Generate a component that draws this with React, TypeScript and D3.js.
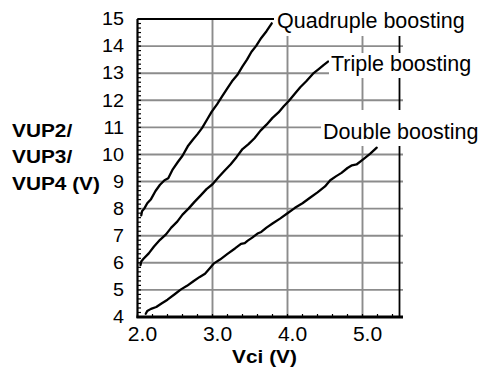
import React from "react";
import * as d3 from "d3";

const X_TICKS = [2.0, 3.0, 4.0, 5.0];
const X_TICK_LABELS = ["2.0", "3.0", "4.0", "5.0"];
const Y_TICKS = [4, 5, 6, 7, 8, 9, 10, 11, 12, 13, 14, 15];

const doubleVci = [2.11, 2.13, 2.18, 2.25, 2.32, 2.4, 2.5, 2.58, 2.66, 2.75, 2.83, 2.9, 2.97, 3.02, 3.1, 3.2, 3.3, 3.38, 3.43, 3.47, 3.53, 3.6, 3.65, 3.72, 3.8, 3.9, 4.0, 4.1, 4.2, 4.3, 4.4, 4.5, 4.57, 4.65, 4.72, 4.8, 4.86, 4.92, 5.0, 5.1, 5.19];
const doubleV = [4.12, 4.22, 4.3, 4.37, 4.5, 4.64, 4.85, 5.02, 5.15, 5.33, 5.48, 5.6, 5.82, 5.98, 6.12, 6.33, 6.53, 6.7, 6.73, 6.82, 6.93, 7.08, 7.14, 7.3, 7.45, 7.63, 7.83, 8.03, 8.2, 8.4, 8.6, 8.82, 9.05, 9.2, 9.32, 9.5, 9.6, 9.63, 9.8, 10.02, 10.25];

const tripleVci = [2.04, 2.05, 2.08, 2.15, 2.22, 2.3, 2.38, 2.45, 2.53, 2.6, 2.68, 2.76, 2.84, 2.92, 3.0, 3.08, 3.16, 3.24, 3.32, 3.4, 3.48, 3.56, 3.64, 3.72, 3.8, 3.88, 3.95, 4.02, 4.1, 4.17, 4.25, 4.34, 4.42, 4.48, 4.54];
const tripleV = [5.92, 6.05, 6.15, 6.35, 6.6, 6.85, 7.05, 7.3, 7.52, 7.78, 8.0, 8.25, 8.48, 8.72, 8.9, 9.16, 9.4, 9.63, 9.9, 10.2, 10.38, 10.6, 10.88, 11.1, 11.35, 11.55, 11.78, 11.98, 12.25, 12.48, 12.7, 12.98, 13.16, 13.3, 13.43];

const quadVci = [2.05, 2.06, 2.09, 2.13, 2.18, 2.24, 2.3, 2.36, 2.41, 2.47, 2.54, 2.6, 2.67, 2.74, 2.8, 2.86, 2.93, 2.99, 3.06, 3.13, 3.2, 3.26, 3.33, 3.4, 3.46, 3.52, 3.58, 3.65, 3.72, 3.79];
const quadV = [7.75, 7.9, 8.0, 8.2, 8.35, 8.65, 8.88, 9.05, 9.12, 9.45, 9.73, 9.95, 10.3, 10.55, 10.75, 10.97, 11.3, 11.58, 11.85, 12.15, 12.45, 12.7, 12.93, 13.25, 13.5, 13.79, 14.0, 14.3, 14.55, 14.84];

const SERIES = [
  { name: "Double boosting", xs: doubleVci, ys: doubleV },
  { name: "Triple boosting", xs: tripleVci, ys: tripleV },
  { name: "Quadruple boosting", xs: quadVci, ys: quadV },
];

const FONT = "'Liberation Sans', Arial, Helvetica, sans-serif";

export default function App() {
  const W = 482;
  const H = 367;
  const x = d3.scaleLinear().domain([2, 5.5]).range([137.5, 400]);
  const y = d3.scaleLinear().domain([4, 15]).range([317, 19]);
  const line = d3
    .line<[number, number]>()
    .x((d) => x(d[0]))
    .y((d) => y(d[1]));

  const yMinor = d3.range(4, 15.001, 1 / 6);
  const xMinor = d3.range(2, 5.5, 0.2);

  return (
    <div style={{ position: "absolute", left: 0, top: 0 }}>
      <svg width={W} height={H} style={{ display: "block", background: "#fff" }}>
        {/* horizontal gridlines */}
        {Y_TICKS.map((t) => (
          <line key={"hy" + t} x1={x(2)} x2={x(5.5) + 3} y1={y(t)} y2={y(t)} stroke="#8c8c8c" strokeWidth={1.9} />
        ))}
        {/* vertical gridlines */}
        {X_TICKS.slice(1).map((t) => (
          <line key={"vx" + t} x1={x(t)} x2={x(t)} y1={y(15)} y2={y(4)} stroke="#8c8c8c" strokeWidth={1.9} />
        ))}
        {/* top & right borders */}
        <line x1={x(2)} x2={x(5.5)} y1={y(15)} y2={y(15)} stroke="#000" strokeWidth={1.8} />
        <line x1={x(5.5) - 0.5} x2={x(5.5) - 0.5} y1={y(15)} y2={y(4)} stroke="#000" strokeWidth={1.8} />
        {/* left axis */}
        <line x1={x(2)} x2={x(2)} y1={y(15)} y2={y(4) + 1} stroke="#000" strokeWidth={2.2} />
        {yMinor.map((t, i) => (
          <line key={"ym" + i} x1={x(2)} x2={x(2) + 3.5} y1={y(t)} y2={y(t)} stroke="#000" strokeWidth={1.2} />
        ))}
        {/* bottom axis */}
        <line x1={x(2) - 1} x2={x(5.5) + 3} y1={y(4)} y2={y(4)} stroke="#000" strokeWidth={3} />
        {xMinor.map((t, i) => (
          <line key={"xm" + i} x1={x(t)} x2={x(t)} y1={y(4)} y2={y(4) - 3} stroke="#000" strokeWidth={1.2} />
        ))}
        {/* curves */}
        {SERIES.map((s) => (
          <path
            key={s.name}
            d={line(s.xs.map((v, i) => [v, s.ys[i]] as [number, number])) || ""}
            fill="none"
            stroke="#000"
            strokeWidth={2.3}
            strokeLinejoin="round"
            strokeLinecap="round"
          />
        ))}
        {/* curve labels with white boxes */}
        <rect x={274} y={4} width={205} height={32} fill="#fff" />
        <text x={277} y={28} fontFamily={FONT} fontSize={21.5} fill="#000">Quadruple boosting</text>
        <rect x={329} y={53} width={150} height={25} fill="#fff" />
        <text x={331} y={71} fontFamily={FONT} fontSize={21.5} fill="#000">Triple boosting</text>
        <rect x={321} y={110} width={158} height={36} fill="#fff" />
        <text x={323} y={139} fontFamily={FONT} fontSize={21.5} fill="#000">Double boosting</text>

        {/* y tick labels */}
        {Y_TICKS.map((t) => (
          <text
            key={"yl" + t}
            transform={`translate(124,${y(t) + 6.3}) scale(1.13,1)`}
            textAnchor="end"
            fontFamily={FONT}
            fontSize={17.5}
            fill="#000"
          >
            {t}
          </text>
        ))}
        {/* x tick labels */}
        {X_TICKS.map((t, i) => (
          <text
            key={"xl" + t}
            transform={`translate(${x(t) + 5},341) scale(1.08,1)`}
            textAnchor="middle"
            fontFamily={FONT}
            fontSize={19.5}
            fill="#000"
          >
            {X_TICK_LABELS[i]}
          </text>
        ))}
        {/* axis titles */}
        <text transform="translate(264.5,363) scale(1.12,1)" textAnchor="middle" fontFamily={FONT} fontSize={18.6} fontWeight="bold" fill="#000">
          Vci (V)
        </text>
        {["VUP2/", "VUP3/", "VUP4 (V)"].map((s, i) => (
          <text
            key={s}
            transform={`translate(12,${136.7 + i * 26.7}) scale(1.12,1)`}
            fontFamily={FONT}
            fontSize={18.6}
            fontWeight="bold"
            fill="#000"
          >
            {s}
          </text>
        ))}
      </svg>
    </div>
  );
}
